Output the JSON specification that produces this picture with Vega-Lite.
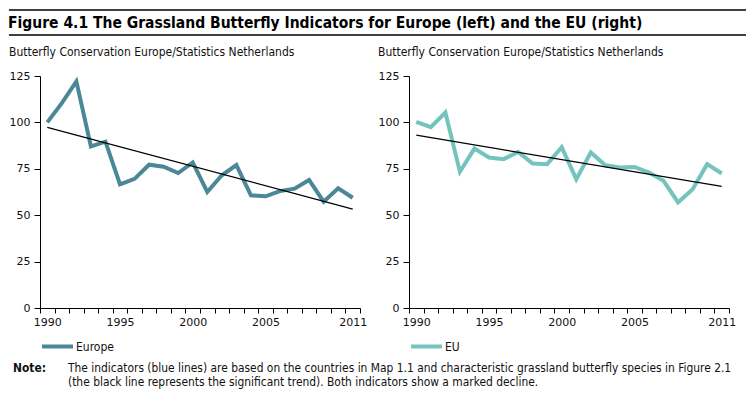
{
  "$schema": "https://vega.github.io/schema/vega-lite/v6.json",
  "background": "white",
  "padding": {"left": 8, "top": 9, "right": 6, "bottom": 2},
  "config": {
    "view": {"stroke": null},
    "font": "DejaVu Sans Condensed",
    "axis": {
      "labelFont": "DejaVu Sans",
      "labelFontSize": 11,
      "labelColor": "#111111",
      "domainColor": "#000000",
      "tickColor": "#000000",
      "grid": false,
      "title": null,
      "tickSize": 6,
      "labelPadding": 4
    },
    "axisX": {"labelOverlap": false, "labelFlush": false, "labelBound": false, "tickSize": 5, "labelPadding": 3},
    "legend": {
      "labelFont": "DejaVu Sans Condensed",
      "labelFontSize": 12,
      "labelColor": "#111111",
      "padding": 0
    }
  },
  "datasets": {
    "europe": [
      {"year": 1990, "value": 100}, {"year": 1991, "value": 110.4}, {"year": 1992, "value": 122.1},
      {"year": 1993, "value": 87.1}, {"year": 1994, "value": 89.6}, {"year": 1995, "value": 66.6},
      {"year": 1996, "value": 69.6}, {"year": 1997, "value": 77.2}, {"year": 1998, "value": 76.1},
      {"year": 1999, "value": 72.7}, {"year": 2000, "value": 78.4}, {"year": 2001, "value": 62.5},
      {"year": 2002, "value": 71.5}, {"year": 2003, "value": 77.0}, {"year": 2004, "value": 60.7},
      {"year": 2005, "value": 60.2}, {"year": 2006, "value": 63.0}, {"year": 2007, "value": 64.3},
      {"year": 2008, "value": 69.0}, {"year": 2009, "value": 57.3}, {"year": 2010, "value": 64.5},
      {"year": 2011, "value": 59.4}
    ],
    "eu": [
      {"year": 1990, "value": 100.3}, {"year": 1991, "value": 97.4}, {"year": 1992, "value": 105.3},
      {"year": 1993, "value": 73.4}, {"year": 1994, "value": 85.9}, {"year": 1995, "value": 81.1},
      {"year": 1996, "value": 80.2}, {"year": 1997, "value": 84.1}, {"year": 1998, "value": 77.8},
      {"year": 1999, "value": 77.5}, {"year": 2000, "value": 86.6}, {"year": 2001, "value": 69.4},
      {"year": 2002, "value": 83.8}, {"year": 2003, "value": 76.9}, {"year": 2004, "value": 75.7},
      {"year": 2005, "value": 76.0}, {"year": 2006, "value": 73.0}, {"year": 2007, "value": 68.5},
      {"year": 2008, "value": 56.9}, {"year": 2009, "value": 64.0}, {"year": 2010, "value": 77.5},
      {"year": 2011, "value": 72.5}
    ],
    "trend_europe": [{"year": 1990, "value": 97.3}, {"year": 2011, "value": 53.3}],
    "trend_eu": [{"year": 1990, "value": 93.1}, {"year": 2011, "value": 65.5}],
    "blank": [{"k": 1}]
  },
  "columns": 1,
  "align": "none",
  "spacing": 7,
  "concat": [
    {
      "width": 706,
      "height": 29,
      "data": {"name": "blank"},
      "layer": [
        {
          "mark": {"type": "rule", "color": "#000000", "strokeWidth": 1.3},
          "encoding": {
            "x": {"datum": -0.044, "type": "quantitative", "scale": {"domain": [0, 1], "nice": false, "zero": false}, "axis": null},
            "x2": {"datum": 1},
            "y": {"datum": 0.138, "type": "quantitative", "scale": {"domain": [0, 1], "nice": false, "zero": false}, "axis": null}
          }
        },
        {
          "mark": {"type": "rule", "color": "#000000", "strokeWidth": 1.3},
          "encoding": {
            "x": {"datum": -0.044, "type": "quantitative"},
            "x2": {"datum": 1},
            "y": {"datum": 1, "type": "quantitative"}
          }
        },
        {
          "mark": {"type": "text", "align": "left", "baseline": "middle", "fontSize": 15.5, "fontWeight": "bold", "font": "DejaVu Sans Condensed", "color": "#000000", "text": "Figure 4.1  The Grassland Butterfly Indicators for Europe (left) and the EU (right)", "dy": 1, "dx": -32},
          "encoding": {
            "x": {"datum": 0, "type": "quantitative"},
            "y": {"datum": 0.569, "type": "quantitative"}
          }
        }
      ]
    },
    {
      "hconcat": [
        {
          "width": 320,
          "height": 232,
          "title": {"text": "Butterfly Conservation Europe/Statistics Netherlands", "anchor": "start", "frame": "bounds", "fontSize": 12, "fontWeight": "normal", "font": "DejaVu Sans Condensed", "color": "#111111", "offset": 11},
          "encoding": {
            "x": {"field": "year", "type": "quantitative", "scale": {"domain": [1989.5, 2011.5], "nice": false, "zero": false},
              "axis": {"values": [1989.5,1990.5,1991.5,1992.5,1993.5,1994.5,1995.5,1996.5,1997.5,1998.5,1999.5,2000.5,2001.5,2002.5,2003.5,2004.5,2005.5,2006.5,2007.5,2008.5,2009.5,2010.5,2011.5],
                "labelExpr": "datum.value == 1989.5 ? '1990' : datum.value == 1994.5 ? '1995' : datum.value == 1999.5 ? '2000' : datum.value == 2004.5 ? '2005' : datum.value == 2010.5 ? '2011' : ''",
                "labelOffset": 7.3, "labelFlush": false, "labelOverlap": false, "labelBound": false}},
            "y": {"field": "value", "type": "quantitative", "scale": {"domain": [0, 125], "nice": false}, "axis": {"values": [0, 25, 50, 75, 100, 125]}}
          },
          "layer": [
            {
              "data": {"name": "europe"},
              "mark": {"type": "line", "strokeWidth": 4},
              "encoding": {
                "color": {"datum": "Europe", "type": "nominal", "scale": {"domain": ["Europe"], "range": ["#4a8797"]},
                  "legend": {"orient": "bottom", "direction": "horizontal", "title": null, "symbolType": "stroke", "symbolSize": 961, "symbolStrokeWidth": 4, "labelOffset": 1, "offset": 2}}
              }
            },
            {
              "data": {"name": "trend_europe"},
              "mark": {"type": "line", "color": "#000000", "strokeWidth": 1.2}
            }
          ]
        },
        {
          "width": 320,
          "height": 232,
          "title": {"text": "Butterfly Conservation Europe/Statistics Netherlands", "anchor": "start", "frame": "bounds", "fontSize": 12, "fontWeight": "normal", "font": "DejaVu Sans Condensed", "color": "#111111", "offset": 11},
          "encoding": {
            "x": {"field": "year", "type": "quantitative", "scale": {"domain": [1989.5, 2011.5], "nice": false, "zero": false},
              "axis": {"values": [1989.5,1990.5,1991.5,1992.5,1993.5,1994.5,1995.5,1996.5,1997.5,1998.5,1999.5,2000.5,2001.5,2002.5,2003.5,2004.5,2005.5,2006.5,2007.5,2008.5,2009.5,2010.5,2011.5],
                "labelExpr": "datum.value == 1989.5 ? '1990' : datum.value == 1994.5 ? '1995' : datum.value == 1999.5 ? '2000' : datum.value == 2004.5 ? '2005' : datum.value == 2010.5 ? '2011' : ''",
                "labelOffset": 7.3, "labelFlush": false, "labelOverlap": false, "labelBound": false}},
            "y": {"field": "value", "type": "quantitative", "scale": {"domain": [0, 125], "nice": false}, "axis": {"values": [0, 25, 50, 75, 100, 125]}}
          },
          "layer": [
            {
              "data": {"name": "eu"},
              "mark": {"type": "line", "strokeWidth": 4},
              "encoding": {
                "color": {"datum": "EU", "type": "nominal", "scale": {"domain": ["EU"], "range": ["#74c4bd"]},
                  "legend": {"orient": "bottom", "direction": "horizontal", "title": null, "symbolType": "stroke", "symbolSize": 961, "symbolStrokeWidth": 4, "labelOffset": 1, "offset": 2}}
              }
            },
            {
              "data": {"name": "trend_eu"},
              "mark": {"type": "line", "color": "#000000", "strokeWidth": 1.2}
            }
          ]
        }
      ],
      "spacing": 10,
      "resolve": {"scale": {"color": "independent", "x": "independent", "y": "independent"}, "legend": {"color": "independent"}}
    },
    {
      "width": 700,
      "height": 26,
      "data": {"name": "blank"},
      "layer": [
        {
          "mark": {"type": "text", "align": "left", "baseline": "top", "fontSize": 11.9, "fontWeight": "bold", "font": "DejaVu Sans Condensed", "color": "#111111", "text": "Note:", "dx": -27},
          "encoding": {
            "x": {"datum": 0, "type": "quantitative", "scale": {"domain": [0, 1]}, "axis": null},
            "y": {"datum": 1, "type": "quantitative", "scale": {"domain": [0, 1]}, "axis": null}
          }
        },
        {
          "mark": {"type": "text", "align": "left", "baseline": "top", "fontSize": 11.9, "font": "DejaVu Sans Condensed", "color": "#111111", "lineBreak": "\n", "lineHeight": 13.5, "dx": 28,
            "text": "The indicators (blue lines) are based on the countries in Map 1.1 and characteristic grassland butterfly species in Figure 2.1\n(the black line represents the significant trend). Both indicators show a marked decline."},
          "encoding": {
            "x": {"datum": 0, "type": "quantitative"},
            "y": {"datum": 1, "type": "quantitative"}
          }
        }
      ]
    }
  ]
}
